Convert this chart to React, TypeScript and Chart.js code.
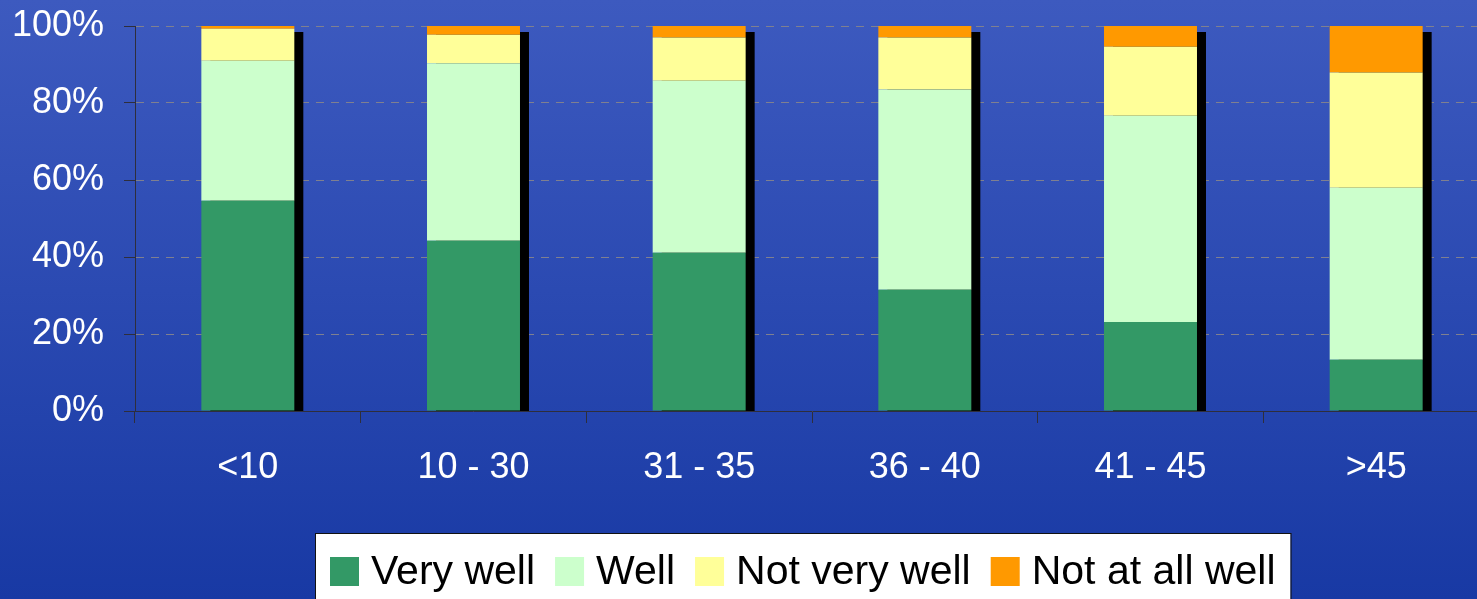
import { useEffect, useRef } from "react";
import { Chart, registerables } from "chart.js";

Chart.register(...registerables);

// Age groups and the share of answers in each group (stacked to 100%)
const categories = ["<10", "10 - 30", "31 - 35", "36 - 40", "41 - 45", ">45"];
const veryWell = [54.6, 44.2, 41.1, 31.5, 23.1, 13.3];
const well = [36.4, 46.1, 44.7, 52.0, 53.6, 44.7];
const notVeryWell = [8.3, 7.4, 11.2, 13.5, 17.9, 29.9];
const notAtAllWell = [0.7, 2.3, 3.0, 3.0, 5.4, 12.1];
const yTicks = [0, 20, 40, 60, 80, 100];

const seriesLabels = ["Very well", "Well", "Not very well", "Not at all well"];
const seriesColors = ["#339966", "#CCFFCC", "#FFFF99", "#FF9900"];

const FONT = '"Liberation Sans", Arial, sans-serif';
const AXIS_DARK = "#2e2e3c";

// Blue vertical gradient behind everything
const backgroundPlugin = {
  id: "bgGradient",
  beforeDraw(chart: any) {
    const { ctx, width, height } = chart;
    const g = ctx.createLinearGradient(0, 0, 0, height);
    g.addColorStop(0, "#3d5abf");
    g.addColorStop(1, "#1839a4");
    ctx.save();
    ctx.fillStyle = g;
    ctx.fillRect(0, 0, width, height);
    ctx.restore();
  },
};

// Solid black drop shadow to the lower right of each stacked column
const shadowPlugin = {
  id: "columnShadow",
  beforeDatasetsDraw(chart: any) {
    const { ctx } = chart;
    const yScale = chart.scales.y;
    const base = yScale.getPixelForValue(0);
    const first = chart.getDatasetMeta(0).data;
    const last = chart.getDatasetMeta(chart.data.datasets.length - 1).data;
    ctx.save();
    ctx.fillStyle = "#000000";
    first.forEach((bar: any, i: number) => {
      const top = last[i].y;
      const left = bar.x - bar.width / 2;
      ctx.fillRect(left + 9, top + 6, bar.width, base - top - 6);
    });
    ctx.restore();
  },
};

// Boxed legend along the bottom edge
const boxLegendPlugin = {
  id: "boxLegend",
  afterDraw(chart: any) {
    const { ctx } = chart;
    const datasets = chart.data.datasets;
    const boxLeft = 315;
    const boxTop = 533;
    const swatch = 29;
    const swatchTop = 557;
    const baseline = 584;
    const textGap = 12;
    const itemGap = 20;
    ctx.save();
    ctx.font = `41px ${FONT}`;
    let x = 330;
    const items = datasets.map((ds: any) => {
      const tw = ctx.measureText(ds.label).width;
      const item = { x, label: ds.label, color: ds.backgroundColor, tw };
      x += swatch + textGap + tw + itemGap;
      return item;
    });
    const boxRight = x - itemGap + 15;
    ctx.fillStyle = "#ffffff";
    ctx.fillRect(boxLeft, boxTop, boxRight - boxLeft, chart.height - boxTop + 2);
    ctx.strokeStyle = "#111111";
    ctx.lineWidth = 1;
    ctx.strokeRect(boxLeft + 0.5, boxTop + 0.5, boxRight - boxLeft, chart.height - boxTop + 4);
    items.forEach((it: any) => {
      ctx.fillStyle = it.color;
      ctx.fillRect(it.x, swatchTop, swatch, swatch);
      ctx.fillStyle = "#000000";
      ctx.textBaseline = "alphabetic";
      ctx.textAlign = "left";
      ctx.fillText(it.label, it.x + swatch + textGap, baseline);
    });
    ctx.restore();
  },
};

export default function App() {
  const canvasRef = useRef<HTMLCanvasElement | null>(null);

  useEffect(() => {
    if (!canvasRef.current) return;
    const values = [veryWell, well, notVeryWell, notAtAllWell];
    const chart = new Chart(canvasRef.current, {
      type: "bar",
      data: {
        labels: categories,
        datasets: values.map((data, i) => ({
          label: seriesLabels[i],
          data,
          backgroundColor: seriesColors[i],
          borderWidth: 0,
          barPercentage: 0.412,
          categoryPercentage: 1,
        })),
      },
      options: {
        responsive: false,
        animation: false,
        layout: { padding: { top: 26, right: 1, left: 0, bottom: 0 } },
        plugins: {
          legend: { display: false },
          tooltip: { enabled: false },
        },
        scales: {
          x: {
            stacked: true,
            afterFit(scale: any) {
              scale.height = 188;
            },
            grid: {
              drawOnChartArea: false,
              drawTicks: true,
              tickLength: 12,
              tickColor: AXIS_DARK,
              color: AXIS_DARK,
            },
            border: { display: true, color: AXIS_DARK, width: 1 },
            ticks: {
              color: "#ffffff",
              font: { family: FONT, size: 36 },
              padding: 23,
              maxRotation: 0,
            },
          },
          y: {
            stacked: true,
            min: 0,
            max: 100,
            afterFit(scale: any) {
              scale.width = 135;
              // the top label fits inside the layout padding
              scale.paddingTop = 0;
              scale.paddingBottom = 0;
            },
            afterBuildTicks(scale: any) {
              scale.ticks = yTicks.map((v) => ({ value: v }));
            },
            grid: {
              color: "#7f8090",
              lineWidth: 1,
              drawTicks: true,
              tickLength: 11,
              tickColor: AXIS_DARK,
              tickBorderDash: [],
            },
            border: { display: true, color: AXIS_DARK, width: 1, dash: [8, 7] },
            ticks: {
              color: "#ffffff",
              font: { family: FONT, size: 36 },
              padding: 20,
              callback: (v: any) => `${v}%`,
            },
          },
        },
      },
      plugins: [backgroundPlugin, shadowPlugin, boxLegendPlugin],
    });
    return () => chart.destroy();
  }, []);

  return (
    <div style={{ position: "fixed", left: 0, top: 0, width: 1490, height: 599 }}>
      <canvas ref={canvasRef} width={1490} height={599} style={{ display: "block" }} />
    </div>
  );
}
